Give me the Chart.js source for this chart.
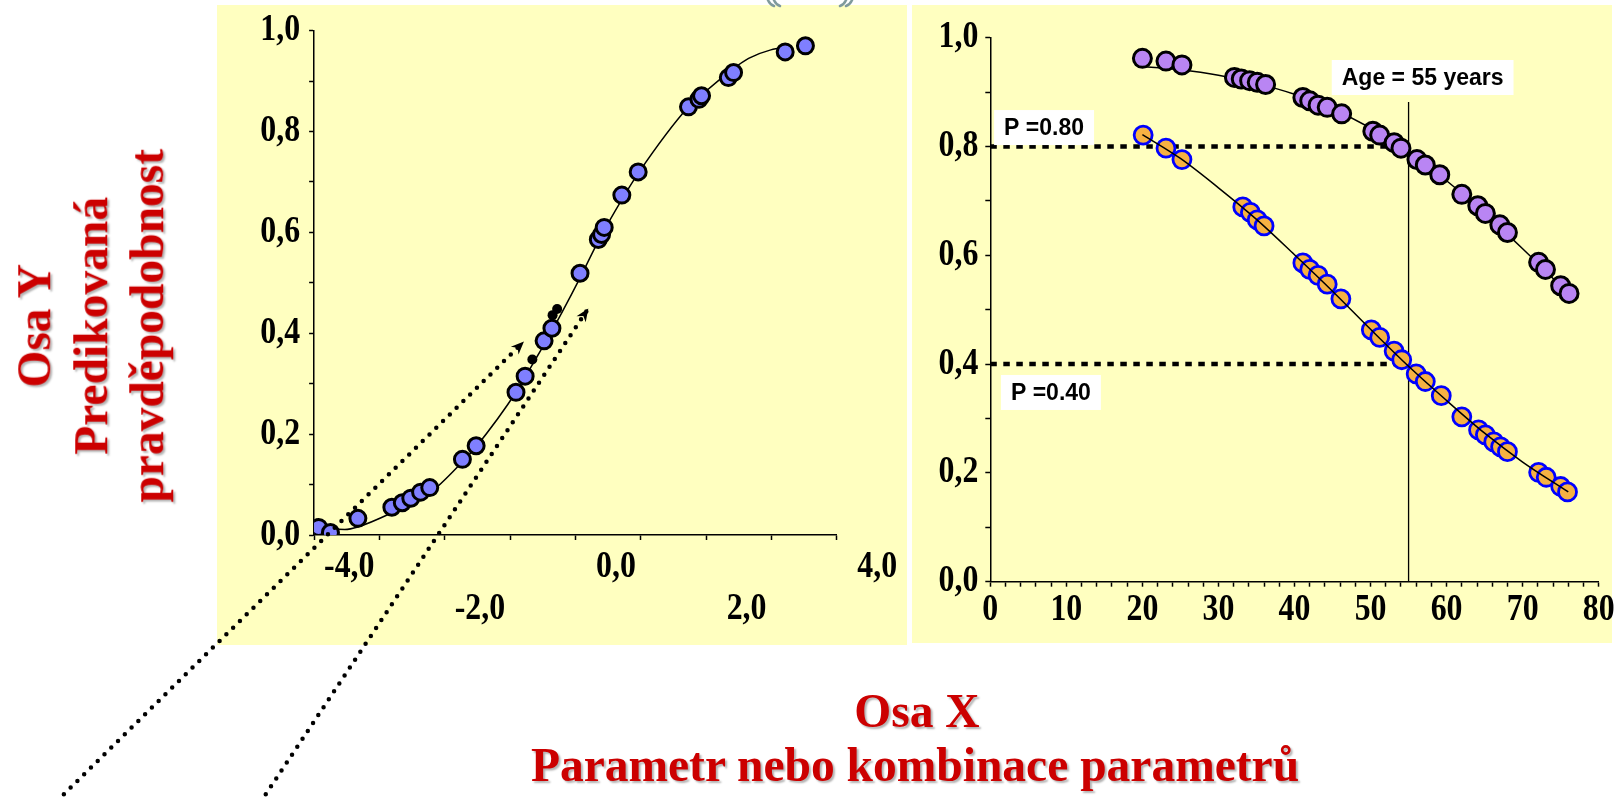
<!DOCTYPE html>
<html lang="cs">
<head>
<meta charset="utf-8">
<title>Predikovaná pravděpodobnost – logistická regrese</title>
<script src="https://cdn.jsdelivr.net/npm/chart.js@4.4.1/dist/chart.umd.min.js"></script>
<style>
  html, body { margin: 0; padding: 0; background: #ffffff; width: 1617px; height: 797px; overflow: hidden; }
  .panel { position: absolute; background: #FFFFC0; }
  #panelLeft { left: 217px; top: 5px; width: 690px; height: 640px; }
  #panelRight { left: 912px; top: 5px; width: 700px; height: 638px; }
  canvas { position: absolute; }
  #leftChart { left: 0; top: 0; }
  #rightChart { left: 905px; top: 0; }
  .axisTitle {
    position: absolute; z-index: 5;
    font-family: "Liberation Serif", "Times New Roman", serif;
    font-weight: bold; font-size: 47.5px; color: #CC0000;
    white-space: nowrap; text-align: center;
  }
  #yTitle {
    left: -159px; top: 241.25px; width: 500px; height: 169.5px;
    line-height: 56.5px; transform: rotate(-90deg);
    text-shadow: -2px 2px 2px rgba(0,0,0,0.3);
  }
  .xTitle { width: 1000px; line-height: 47.5px; text-shadow: 2px 2px 2px rgba(0,0,0,0.3); }
  #xTitle1 { left: 417px; top: 688.2px; }
  #xTitle2 { left: 415px; top: 742.2px; }
  #ornament { position: absolute; left: 0; top: 0; z-index: 6; }
</style>
</head>
<body>
<div class="panel" id="panelLeft"></div>
<div class="panel" id="panelRight"></div>
<svg id="ornament" width="1617" height="12">
  <g fill="none" stroke="#7F9A9C" stroke-width="2.5" stroke-linecap="round">
    <path d="M766 -6 Q768 4 774 6"/><path d="M772 -6 Q774 4 780 6"/>
    <path d="M854 -6 Q852 4 846 6"/><path d="M848 -6 Q846 4 840 6"/>
  </g>
</svg>
<canvas id="leftChart" width="960" height="797"></canvas>
<canvas id="rightChart" width="712" height="660"></canvas>
<div class="axisTitle" id="yTitle">Osa Y<br>Predikovaná<br>pravděpodobnost</div>
<div class="axisTitle xTitle" id="xTitle1">Osa X</div>
<div class="axisTitle xTitle" id="xTitle2">Parametr nebo kombinace parametrů</div>

<script>
// ---------- left panel: probability against the linear score ----------
const scoreTickValues = [-4, -2, 0, 2, 4];
const scoreTickLabels = ['-4,0', '-2,0', '0,0', '2,0', '4,0'];
const probTickValues = [0, 0.2, 0.4, 0.6, 0.8, 1.0];
const probTickLabels = ['0,0', '0,2', '0,4', '0,6', '0,8', '1,0'];

const scoreX = [-4.93, -4.75, -4.33, -3.81, -3.65, -3.52, -3.37, -3.23, -2.73, -2.52,
                -1.91, -1.77, -1.48, -1.36, -0.93, -0.65, -0.60, -0.56, -0.29, -0.04,
                 0.73,  0.89,  0.93,  1.34,  1.42,  2.21,  2.52];
const scoreP = [0.015, 0.005, 0.033, 0.055, 0.064, 0.073, 0.085, 0.094, 0.150, 0.177,
                0.283, 0.315, 0.385, 0.410, 0.519, 0.586, 0.596, 0.610, 0.674, 0.720,
                0.849, 0.864, 0.871, 0.907, 0.917, 0.958, 0.970];

const fitScoreX = [-4.91, -4.53, -4.33, -3.81, -3.23, -2.73, -2.52, -1.91, -1.65, -1.36,
                   -1.20, -0.93, -0.62, -0.29, -0.04, 0.73, 0.96, 1.37, 1.65, 1.99, 2.26];
const fitScoreP = [0.013, 0.011, 0.016, 0.044, 0.083, 0.145, 0.175, 0.283, 0.340, 0.405,
                   0.443, 0.510, 0.590, 0.665, 0.717, 0.849, 0.876, 0.920, 0.945, 0.962, 0.967];

const markScoreX = [-1.28, -1.35, -1.66];
const markScoreP = [0.448, 0.436, 0.348];

const arrowFromX = [-8.83, -5.74];
const arrowFromP = [-0.514, -0.514];
const arrowToX = [-1.81, -0.82];
const arrowToP = [0.381, 0.446];

// ---------- right panel: probability against age ----------
const ageTickValues = [0, 10, 20, 30, 40, 50, 60, 70, 80];
const ageTickLabels = ['0', '10', '20', '30', '40', '50', '60', '70', '80'];

const ageUpper = [20.0, 23.1, 25.2, 32.1, 33.0, 34.1, 35.1, 36.2, 41.1, 42.0,
                  43.1, 44.3, 46.2, 50.3, 51.2, 53.1, 54.0, 56.1, 57.2, 59.1,
                  62.0, 64.1, 65.1, 67.0, 68.0, 72.1, 73.0, 75.0, 76.1];
const probUpper = [0.962, 0.957, 0.950, 0.927, 0.924, 0.921, 0.918, 0.914, 0.890, 0.884,
                   0.876, 0.872, 0.860, 0.828, 0.821, 0.807, 0.797, 0.776, 0.766, 0.748,
                   0.712, 0.691, 0.677, 0.656, 0.642, 0.587, 0.574, 0.544, 0.530];
const fitAgeUpper = [20, 25, 30, 35, 40, 45, 50, 55, 60, 65, 70, 76];
const fitProbUpper = [0.947, 0.941, 0.931, 0.916, 0.896, 0.869, 0.834, 0.790, 0.737, 0.677, 0.612, 0.530];

const ageLower = [20.1, 23.1, 25.2, 33.2, 34.2, 35.1, 36.0, 41.1, 42.0, 43.1,
                  44.3, 46.1, 50.1, 51.2, 53.1, 54.1, 56.0, 57.2, 59.3, 62.0,
                  64.2, 65.1, 66.2, 67.1, 68.0, 72.1, 73.1, 75.0, 75.9];
const probLower = [0.821, 0.797, 0.776, 0.689, 0.679, 0.665, 0.654, 0.586, 0.574, 0.563,
                   0.547, 0.520, 0.463, 0.449, 0.424, 0.408, 0.382, 0.368, 0.342, 0.303,
                   0.279, 0.270, 0.257, 0.248, 0.239, 0.201, 0.192, 0.175, 0.165];
const fitAgeLower = [20, 25, 30, 35, 40, 45, 50, 55, 60, 65, 70, 76];
const fitProbLower = [0.822, 0.778, 0.724, 0.666, 0.601, 0.534, 0.464, 0.396, 0.333, 0.273, 0.220, 0.165];

const cutAge = 55;
const cutAgeTop = 0.882;
const cutProbs = [0.80, 0.40];
const cutLabels = ['P =0.80', 'P =0.40'];
const ageLabel = 'Age = 55 years';

// ---------- helpers ----------
const ink = '#000000';
const pts = (xs, ys) => xs.map((x, i) => ({ x, y: ys[i] }));
function tickRange(from, to, step) {
  const out = [];
  const n = Math.round((to - from) / step);
  for (let k = 0; k <= n; k++) out.push({ value: +(from + k * step).toFixed(6) });
  return out;
}
// each axis gets a fixed band; the plot area is set by padding + band
function fixedBand(size) {
  return scale => {
    if (scale.isHorizontal()) scale.height = size; else scale.width = size;
    scale.paddingLeft = scale.paddingRight = scale.paddingTop = scale.paddingBottom = 0;
  };
}
const axisLine = { display: true, color: ink, width: 1.5 };
const tickMarks = { display: true, drawOnChartArea: false, drawTicks: true, tickLength: 5, tickWidth: 1.5, tickColor: ink };

function probAxis(band) {
  return {
    type: 'linear', min: 0, max: 1,
    afterBuildTicks: s => { s.ticks = tickRange(0, 1, 0.1); },
    afterFit: fixedBand(band),
    border: axisLine, grid: tickMarks,
    ticks: { display: false, autoSkip: false }
  };
}

// tall, narrow bold serif tick labels placed through the axis scales
const labelSize = 37;
const labelSqueeze = 0.86;
function tickLabelPlugin(specs) {
  return {
    id: 'tickLabels',
    afterDraw(chart) {
      const ctx = chart.ctx;
      specs.forEach(ax => {
        const scale = chart.scales[ax.axis];
        ax.values.forEach((v, i) => {
          const p = scale.getPixelForValue(v);
          let x, y, align;
          if (scale.isHorizontal()) {
            x = p + (ax.shift || 0);
            y = scale.top + ax.gap + (ax.rows ? (i % ax.rows) * ax.rowStep : 0);
            align = ax.align || 'center';
          } else {
            x = scale.right - ax.gap;
            y = p;
            align = 'right';
          }
          ctx.save();
          ctx.font = 'bold ' + labelSize + 'px "Liberation Serif", "Times New Roman", serif';
          ctx.fillStyle = ink;
          ctx.textBaseline = 'middle';
          ctx.textAlign = align;
          ctx.translate(x, y);
          ctx.scale(labelSqueeze, 1);
          ctx.fillText(ax.labels[i], 0, 0);
          ctx.restore();
        });
      });
    }
  };
}

// arrow heads at the end of the dotted guide lines
const arrowHeads = {
  id: 'arrowHeads',
  afterDatasetsDraw(chart) {
    const ctx = chart.ctx;
    chart.data.datasets.forEach((ds, i) => {
      if (!ds.arrowHead) return;
      const els = chart.getDatasetMeta(i).data;
      const a = els[els.length - 2], b = els[els.length - 1];
      const ang = Math.atan2(b.y - a.y, b.x - a.x);
      ctx.save();
      ctx.translate(b.x, b.y);
      ctx.rotate(ang);
      ctx.fillStyle = ink;
      ctx.beginPath();
      ctx.moveTo(2, 0);
      ctx.lineTo(-11, -5.5);
      ctx.lineTo(-7, 0);
      ctx.lineTo(-11, 5.5);
      ctx.closePath();
      ctx.fill();
      ctx.restore();
    });
  }
};

// white boxes with captions, placed in data coordinates (left/top corner)
function noteBoxPlugin(items) {
  return {
    id: 'noteBoxes',
    afterDatasetsDraw(chart) {
      const ctx = chart.ctx, xs = chart.scales.x, ys = chart.scales.y;
      items.forEach(it => {
        ctx.save();
        ctx.font = 'bold 23px "Liberation Sans", Arial, sans-serif';
        const padX = 10, h = 35;
        const w = ctx.measureText(it.text).width + 2 * padX;
        const left = xs.getPixelForValue(it.x), top = ys.getPixelForValue(it.y);
        ctx.fillStyle = '#ffffff';
        ctx.fillRect(left, top, w, h);
        ctx.fillStyle = ink;
        ctx.textBaseline = 'middle';
        ctx.fillText(it.text, left + padX, top + h / 2 + 1);
        ctx.restore();
      });
    }
  };
}

Chart.defaults.font.family = 'Liberation Serif';
Chart.defaults.animation = false;
Chart.defaults.events = [];
Chart.defaults.plugins.legend.display = false;
Chart.defaults.plugins.tooltip.enabled = false;

// ---------- left chart ----------
new Chart(document.getElementById('leftChart'), {
  type: 'scatter',
  data: {
    datasets: [
      ...arrowFromX.map((x0, i) => ({
        data: [{ x: x0, y: arrowFromP[i] }, { x: arrowToX[i], y: arrowToP[i] }],
        showLine: true, arrowHead: true, clip: false, order: 0,
        borderColor: ink, borderWidth: 4.5, borderDash: [0, 9.5], borderCapStyle: 'round',
        pointRadius: 0
      })),
      {
        data: pts(markScoreX, markScoreP), order: 1,
        pointRadius: 5, pointBorderWidth: 0, pointBackgroundColor: ink
      },
      {
        data: pts(scoreX, scoreP), order: 2,
        pointRadius: 8, pointBorderWidth: 3, pointBorderColor: ink, pointBackgroundColor: '#7F7FFF'
      },
      {
        data: pts(fitScoreX, fitScoreP), order: 3, showLine: true,
        borderColor: ink, borderWidth: 1.5, pointRadius: 0, cubicInterpolationMode: 'monotone'
      }
    ]
  },
  options: {
    responsive: false,
    devicePixelRatio: 1,
    layout: { padding: { left: 214.1, right: 123.2, top: 30.7, bottom: 182 } },
    scales: {
      x: {
        type: 'linear', min: -5, max: 3,
        afterBuildTicks: s => { s.ticks = tickRange(-5, 3, 1); },
        afterFit: fixedBand(80),
        border: axisLine, grid: tickMarks,
        ticks: { display: false, autoSkip: false }
      },
      y: probAxis(100)
    }
  },
  plugins: [arrowHeads, tickLabelPlugin([
    { axis: 'x', values: scoreTickValues, labels: scoreTickLabels, align: 'right', shift: -5, gap: 32, rows: 2, rowStep: 42 },
    { axis: 'y', values: probTickValues, labels: probTickLabels, gap: 14 }
  ])]
});

// ---------- right chart ----------
new Chart(document.getElementById('rightChart'), {
  type: 'scatter',
  data: {
    datasets: [
      {
        data: pts(fitAgeLower, fitProbLower), order: 0, showLine: true,
        borderColor: ink, borderWidth: 1.5, pointRadius: 0, cubicInterpolationMode: 'monotone'
      },
      {
        data: pts(ageLower, probLower), order: 1,
        pointRadius: 9, pointBorderWidth: 2.8, pointBorderColor: '#0000FF', pointBackgroundColor: '#F6B142'
      },
      {
        data: pts(ageUpper, probUpper), order: 2,
        pointRadius: 9, pointBorderWidth: 3, pointBorderColor: ink, pointBackgroundColor: '#B985F3'
      },
      {
        data: pts(fitAgeUpper, fitProbUpper), order: 3, showLine: true,
        borderColor: ink, borderWidth: 1.5, pointRadius: 0, cubicInterpolationMode: 'monotone'
      },
      {
        data: [{ x: cutAge, y: 0 }, { x: cutAge, y: cutAgeTop }], order: 4, showLine: true,
        borderColor: ink, borderWidth: 1.3, pointRadius: 0
      },
      ...cutProbs.map(p => ({
        data: [{ x: 0, y: p }, { x: cutAge, y: p }], order: 5, showLine: true,
        borderColor: ink, borderWidth: 4.5, borderDash: [6.5, 6.5], pointRadius: 0
      }))
    ]
  },
  options: {
    responsive: false,
    devicePixelRatio: 1,
    layout: { padding: { left: 5.3, right: 18.3, top: 37.7, bottom: 18.3 } },
    scales: {
      x: {
        type: 'linear', min: 0, max: 80,
        afterBuildTicks: s => { s.ticks = tickRange(0, 80, 2); },
        afterFit: fixedBand(60),
        border: axisLine, grid: tickMarks,
        ticks: { display: false, autoSkip: false }
      },
      y: probAxis(80)
    }
  },
  plugins: [
    noteBoxPlugin([
      { text: ageLabel, x: 44.9, y: 0.959 },
      { text: cutLabels[0], x: 0.5, y: 0.867 },
      { text: cutLabels[1], x: 1.4, y: 0.380 }
    ]),
    tickLabelPlugin([
      { axis: 'x', values: ageTickValues, labels: ageTickLabels, gap: 28.5 },
      { axis: 'y', values: probTickValues, labels: probTickLabels, gap: 12 }
    ])
  ]
});
</script>
</body>
</html>
